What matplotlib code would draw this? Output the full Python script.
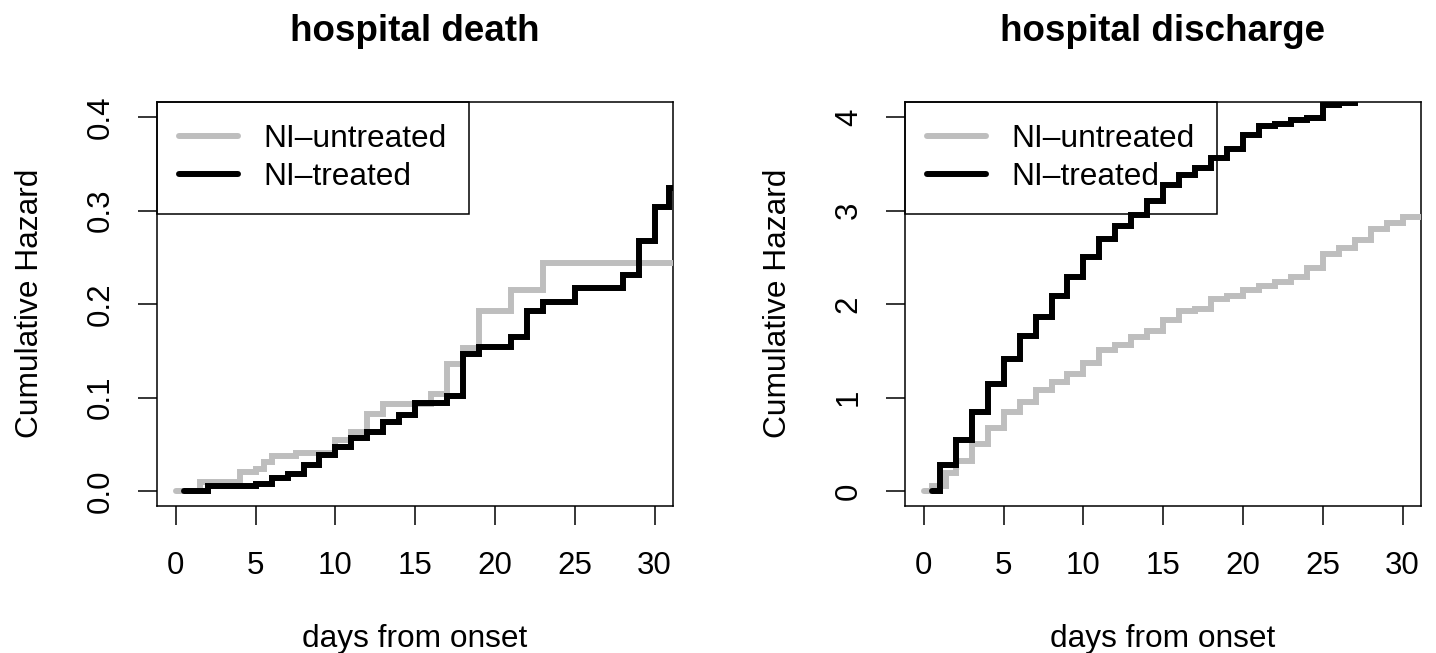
import matplotlib.pyplot as plt

plt.rcParams['font.family'] = ['Liberation Sans', 'DejaVu Sans']

GRAY = '#bebebe'
labels = ['NI\u2013untreated', 'NI\u2013treated']

# --- hospital death: cumulative hazard steps (day, value) ---
death_untreated_t = [0, 1.5, 4, 5, 5.5, 6, 7.5, 10, 11, 12, 13, 16, 17, 18, 19, 21, 23]
death_untreated_h = [0, 0.010, 0.020, 0.024, 0.031, 0.037, 0.041, 0.055, 0.063, 0.082,
                     0.093, 0.104, 0.136, 0.153, 0.192, 0.215, 0.244]
death_treated_t = [0.5, 2, 5, 6, 7, 8, 9, 10, 11, 12, 13, 14, 15, 17, 18, 19, 21, 22,
                   23, 25, 28, 29, 30, 30.9]
death_treated_h = [0, 0.005, 0.008, 0.0135, 0.018, 0.028, 0.0385, 0.047, 0.057, 0.063,
                   0.074, 0.081, 0.094, 0.102, 0.147, 0.154, 0.165, 0.192, 0.2025,
                   0.217, 0.231, 0.267, 0.304, 0.324]

# --- hospital discharge ---
disch_untreated_t = [0, 0.5, 1.4, 2, 3, 4, 5, 6, 7, 8, 9, 10, 11, 12, 13, 14, 15, 16,
                     17, 18, 19, 20, 21, 22, 23, 24, 25, 26, 27, 28, 29, 30]
disch_untreated_h = [0, 0.05, 0.19, 0.32, 0.50, 0.67, 0.84, 0.95, 1.08, 1.17, 1.25,
                     1.37, 1.51, 1.56, 1.65, 1.71, 1.83, 1.92, 1.95, 2.05, 2.09, 2.15,
                     2.19, 2.24, 2.29, 2.39, 2.54, 2.60, 2.68, 2.80, 2.87, 2.93]
disch_treated_t = [0.5, 1, 2, 3, 4, 5, 6, 7, 8, 9, 10, 11, 12, 13, 14, 15, 16, 17, 18,
                   19, 20, 21, 22, 23, 24, 25, 26, 27]
disch_treated_h = [0, 0.28, 0.545, 0.84, 1.14, 1.41, 1.66, 1.86, 2.09, 2.29, 2.50,
                   2.70, 2.83, 2.95, 3.10, 3.27, 3.38, 3.46, 3.56, 3.66, 3.81, 3.90,
                   3.93, 3.97, 3.99, 4.13, 4.15, 4.30]

panels = [
    dict(title='hospital death', left=157,
         series=[(death_untreated_t, death_untreated_h), (death_treated_t, death_treated_h)],
         ylim=(-0.0155, 0.4166), yticks=[0, 0.1, 0.2, 0.3, 0.4], yfmt='{:.1f}'),
    dict(title='hospital discharge', left=905,
         series=[(disch_untreated_t, disch_untreated_h), (disch_treated_t, disch_treated_h)],
         ylim=(-0.155, 4.166), yticks=[0, 1, 2, 3, 4], yfmt='{:.0f}'),
]

W, H = 1436, 653
fig = plt.figure(figsize=(W / 100, H / 100), dpi=100)

box_w, box_top, box_bot = 516, 101.5, 505.5
for p in panels:
    ax = fig.add_axes([p['left'] / W, (H - box_bot) / H, box_w / W, (box_bot - box_top) / H])
    for (t, h), col in zip(p['series'], [GRAY, 'black']):
        ax.step(list(t) + [40], list(h) + [h[-1]], where='post', color=col, lw=4.3,
                solid_capstyle='round', solid_joinstyle='miter', zorder=3)
    ax.set_xlim(-1.18, 31.15)
    ax.set_ylim(*p['ylim'])
    ax.set_xticks([0, 5, 10, 15, 20, 25, 30])
    ax.set_yticks(p['yticks'])
    ax.set_yticklabels([p['yfmt'].format(v) for v in p['yticks']])
    for s in ax.spines.values():
        s.set_linewidth(1.1)
    ax.tick_params(axis='both', length=13.5, width=1.1, labelsize=22.5)
    ax.tick_params(axis='x', pad=19)
    ax.tick_params(axis='y', pad=27)
    for lbl in ax.get_yticklabels():
        lbl.set_rotation(90)
        lbl.set_ha('center')
        lbl.set_va('center')

    leg = ax.legend(ax.get_lines(), labels, loc='upper left', bbox_to_anchor=(0, 1),
                    borderaxespad=0, fontsize=22.8, handlelength=1.85, handletextpad=0.8,
                    borderpad=0.7, labelspacing=0.26, fancybox=False, framealpha=1,
                    edgecolor='black')
    leg.get_frame().set_linewidth(1.1)
    leg.set_zorder(1)

    cx = (p['left'] + box_w / 2) / W
    fig.text(cx, 1 - 41 / H, p['title'], ha='center', va='baseline',
             fontsize=26.5, fontweight='bold')
    fig.text(cx, 1 - 647 / H, 'days from onset', ha='center', va='baseline', fontsize=22.8)
    fig.text((p['left'] - 127) / W, 1 - (box_top + box_bot) / 2 / H, 'Cumulative Hazard',
             rotation=90, ha='center', va='center', fontsize=22.8)

fig.savefig('out.png', dpi=100)
